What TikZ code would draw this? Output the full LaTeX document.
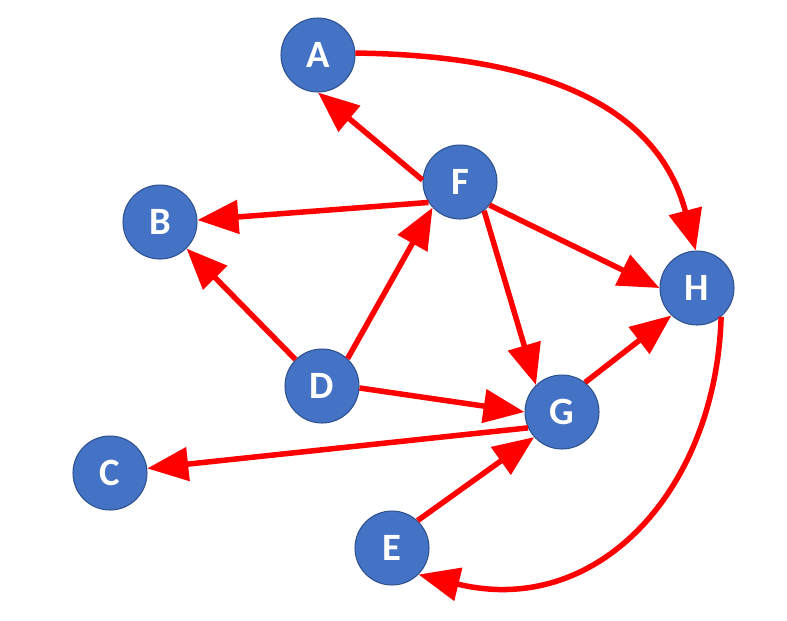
\documentclass[tikz,border=0pt]{standalone}
\usepackage{fontspec}
\setmainfont{Carlito}
\usetikzlibrary{arrows.meta}
\definecolor{nodeblue}{HTML}{4472C4}
\definecolor{nodeedge}{HTML}{2F528F}
\definecolor{edgered}{HTML}{FF0000}
\begin{document}
\begin{tikzpicture}[x=0.02cm,y=0.02cm,
  vertex/.style={circle,fill=nodeblue,draw=nodeedge,line width=0.6pt,
    minimum size=1.48cm,inner sep=0pt,text=white,
    font=\fontsize{22}{22}\selectfont\bfseries},
  link/.style={draw=edgered,line width=0.11cm,
    -{Triangle[length=0.82cm,width=0.66cm]}}]
\useasboundingbox (0,0) rectangle (787,-620);
% vertices
\node[vertex] (A) at (318,-55)  {A};
\node[vertex] (F) at (460,-182) {F};
\node[vertex] (B) at (160,-222) {B};
\node[vertex] (H) at (697,-288) {H};
\node[vertex] (D) at (322,-386) {D};
\node[vertex] (G) at (562,-412) {G};
\node[vertex] (C) at (110,-473) {C};
\node[vertex] (E) at (392,-548) {E};
% straight edges
\draw[link] (F.177) -- (A.south);
\draw[link] (F.213) -- (B.3);
\draw[link] (D.135) -- (B.-45);
\draw[link] (D.47)  -- (F.223);
\draw[link] (F.-50) -- (G.134);
\draw[link] (F.-38) -- (H.180);
\draw[link] (D.-3)  -- (G.180);
\draw[link] (G.52)  -- (H.227);
\draw[link] (G.205) -- (C.7);
\draw[link] (E.47)  -- (G.222);
% curved edges
\draw[link] (A.3) .. controls +(155,-2) and +(-42,160) .. (H.92);
\draw[link] (H.-50) .. controls +(-5,-172) and +(180,-44) .. (E.-45);
\end{tikzpicture}
\end{document}
